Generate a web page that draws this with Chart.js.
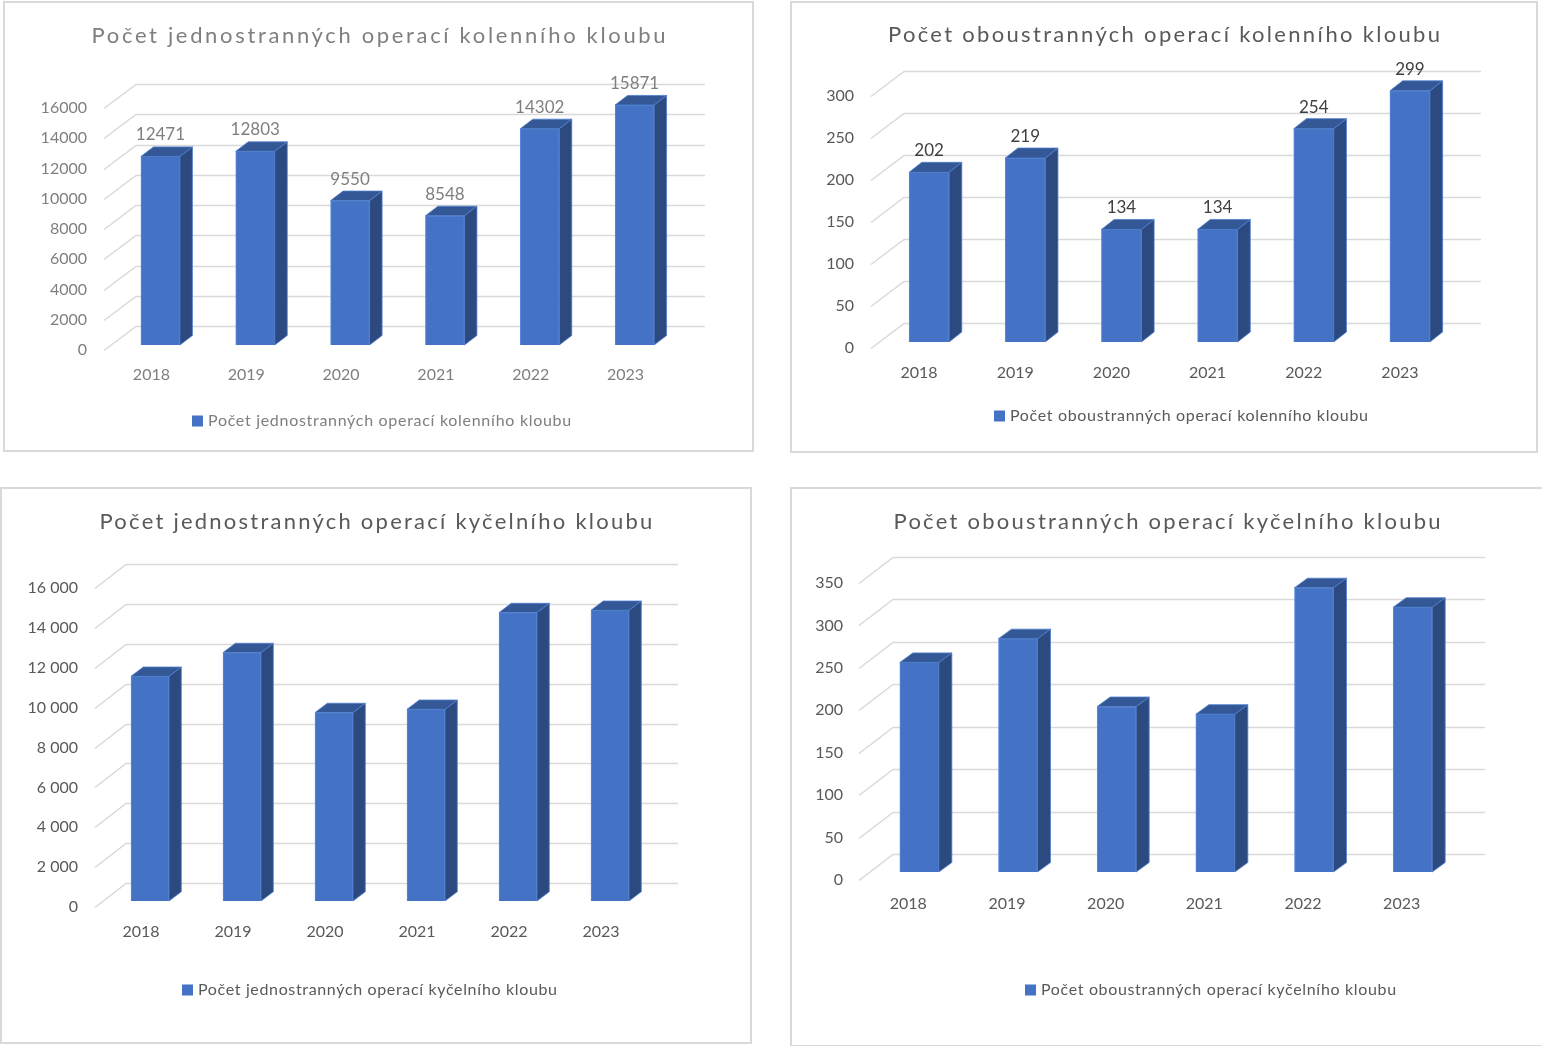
<!DOCTYPE html>
<html>
<head>
<meta charset="utf-8">
<script src="https://cdn.jsdelivr.net/npm/chart.js@4.4.1/dist/chart.umd.min.js"></script>
<style>
  body { margin: 0; background: #fff; width: 1542px; height: 1046px; position: relative; overflow: hidden; }
  .panel { position: absolute; box-sizing: border-box; border: 2px solid #d9d9d9; background: #fff; }
  .panel canvas { display: block; }
</style>
</head>
<body>
<div class="panel" id="p1"><canvas id="c1"></canvas></div>
<div class="panel" id="p2"><canvas id="c2"></canvas></div>
<div class="panel" id="p3"><canvas id="c3"></canvas></div>
<div class="panel" id="p4"><canvas id="c4"></canvas></div>
<script>
// data
const years = ['2018', '2019', '2020', '2021', '2022', '2023'];

const kneeSingle = [12471, 12803, 9550, 8548, 14302, 15871];
const kneeDouble = [202, 219, 134, 134, 254, 299];
const hipSingle = [11270, 12460, 9450, 9615, 14465, 14580];
const hipDouble = [247, 275, 195, 186, 335, 312];

const kneeSingleTicks = [0, 2000, 4000, 6000, 8000, 10000, 12000, 14000, 16000];
const kneeDoubleTicks = [0, 50, 100, 150, 200, 250, 300];
const hipSingleTicks = [0, 2000, 4000, 6000, 8000, 10000, 12000, 14000, 16000];
const hipDoubleTicks = [0, 50, 100, 150, 200, 250, 300, 350];

const kneeSingleTitle = 'Počet jednostranných operací kolenního kloubu';
const kneeDoubleTitle = 'Počet oboustranných operací kolenního kloubu';
const hipSingleTitle = 'Počet jednostranných operací kyčelního kloubu';
const hipDoubleTitle = 'Počet oboustranných operací kyčelního kloubu';

const FONT = "Lato, 'Open Sans', sans-serif";
const FRONT = '#4472C4';

// Excel text is loosely tracked, so stretch with letter spacing to a target width
function spacedFill(ctx, text, x, y, target, align) {
    ctx.letterSpacing = '0px';
    const w = ctx.measureText(text).width;
    const sp = Math.max(0, (target - w) / (text.length - 1));
    ctx.letterSpacing = sp.toFixed(2) + 'px';
    ctx.textAlign = 'left';
    ctx.fillText(text, align === 'center' ? x - target / 2 : x, y);
    ctx.letterSpacing = '0px';
}

// fake 3D: perspective grid behind, side + top faces on the bars
const bar3d = {
    id: 'bar3d',
    beforeDatasetsDraw(chart, args, o) {
        const { ctx, chartArea: a, scales: { y } } = chart;
        ctx.save();
        ctx.strokeStyle = '#d9d9d9';
        ctx.lineWidth = 1.5;
        y.ticks.forEach(t => {
            const py = Math.round(y.getPixelForValue(t.value)) + 0.5;
            ctx.beginPath();
            ctx.moveTo(a.left, py);
            ctx.lineTo(a.left + o.dx, py - o.dy);
            ctx.lineTo(a.right + o.dx, py - o.dy);
            ctx.stroke();
        });
        ctx.restore();
        ctx.save();
        ctx.translate(o.ox, -o.oy);
    },
    afterDatasetsDraw(chart, args, o) {
        const { ctx } = chart;
        const values = chart.data.datasets[0].data;
        chart.getDatasetMeta(0).data.forEach((bar, i) => {
            const { x, y, base, width } = bar.getProps(['x', 'y', 'base', 'width'], true);
            const l = x - width / 2, r = x + width / 2;
            ctx.lineWidth = 0.8;
            ctx.strokeStyle = '#4f7fcf';
            // right side
            ctx.fillStyle = '#2c4a80';
            ctx.beginPath();
            ctx.moveTo(r, y);
            ctx.lineTo(r + o.sx, y - o.sy);
            ctx.lineTo(r + o.sx, base - o.sy);
            ctx.lineTo(r, base);
            ctx.closePath();
            ctx.fill();
            ctx.stroke();
            // top
            ctx.fillStyle = '#335895';
            ctx.beginPath();
            ctx.moveTo(l, y);
            ctx.lineTo(l + o.sx, y - o.sy);
            ctx.lineTo(r + o.sx, y - o.sy);
            ctx.lineTo(r, y);
            ctx.closePath();
            ctx.fill();
            ctx.stroke();

            if (o.showValues) {
                ctx.fillStyle = o.valueColor;
                ctx.font = '17px ' + FONT;
                ctx.textAlign = 'center';
                ctx.textBaseline = 'middle';
                ctx.fillText(String(values[i]), x, y - 21.5);
            }
        });
        ctx.restore();
    }
};

// title + legend placed where Excel put them (its legend is not centred)
const headerLegend = {
    id: 'headerLegend',
    afterDraw(chart, args, o) {
        const { ctx, width } = chart;
        ctx.save();
        ctx.textBaseline = 'middle';
        ctx.fillStyle = o.titleColor;
        ctx.font = '22px ' + FONT;
        spacedFill(ctx, o.text, width / 2, o.titleY, o.titleW, 'center');

        ctx.fillStyle = FRONT;
        ctx.fillRect(o.legX, o.legY - 5.5, 11, 11);
        ctx.fillStyle = o.legendColor;
        ctx.font = '16px ' + FONT;
        spacedFill(ctx, o.text, o.legX + 16, o.legY, o.legW, 'left');
        ctx.restore();
    }
};

const spaced = v => String(v).replace(/\B(?=(\d{3})+(?!\d))/g, ' ');

function build(id, box, g, values, ticks, title, look) {
    const wrap = document.getElementById('p' + id);
    wrap.style.left = box.x + 'px';
    wrap.style.top = box.y + 'px';
    wrap.style.width = box.w + 'px';
    wrap.style.height = box.h + 'px';
    const cw = box.w - 4, ch = box.h - 4;
    const canvas = document.getElementById('c' + id);
    canvas.width = cw;
    canvas.height = ch;

    // page coords -> canvas coords
    const x0 = box.x + 2, y0 = box.y + 2;
    const L = g.left - x0, R = g.right - x0, T = g.top - y0, B = g.bottom - y0;
    const tickLH = 16 * 1.2;
    const xAxisH = 40;

    return new Chart(canvas, {
        type: 'bar',
        data: {
            labels: years,
            datasets: [{
                label: title,
                data: values,
                backgroundColor: FRONT,
                borderColor: '#5b8bdb',
                borderWidth: 1,
                barThickness: g.bar,
                clip: false
            }]
        },
        options: {
            responsive: false,
            animation: false,
            events: [],
            layout: { padding: { left: 0, top: T, right: cw - R, bottom: ch - B - xAxisH } },
            scales: {
                x: {
                    grid: { display: false, drawTicks: false },
                    border: { display: false },
                    ticks: {
                        color: look.tickColor,
                        font: { family: FONT, size: 16 },
                        padding: g.xLabY - g.bottom - tickLH / 2
                    },
                    afterFit: s => { s.height = xAxisH; }
                },
                y: {
                    min: ticks[0],
                    max: ticks[ticks.length - 1],
                    grid: { display: false, drawTicks: false },
                    border: { display: false },
                    ticks: {
                        stepSize: ticks[1] - ticks[0],
                        color: look.tickColor,
                        font: { family: FONT, size: 16 },
                        padding: g.left - g.yLabR,
                        callback: v => look.spaced ? spaced(v) : String(v)
                    },
                    afterFit: s => { s.width = L; }
                }
            },
            plugins: {
                legend: { display: false },
                tooltip: { enabled: false },
                title: { display: false },
                bar3d: {
                    dx: g.dx, dy: g.dy, ox: g.ox, oy: g.oy, sx: g.sx, sy: g.sy,
                    showValues: look.showValues, valueColor: look.valueColor
                },
                headerLegend: {
                    text: title, titleY: g.titleY - y0, titleW: g.titleW, titleColor: look.titleColor,
                    legX: g.legX - x0, legY: g.legY - y0, legW: g.legW, legendColor: look.legendColor
                }
            }
        },
        plugins: [bar3d, headerLegend]
    });
}

build(1, { x: 3, y: 1, w: 751, h: 451 },
    { left: 104, right: 673, top: 108, bottom: 350, yLabR: 87, xLabY: 375, titleY: 36, titleW: 574,
      legX: 192, legY: 421, legW: 363,
      dx: 32, dy: 24, ox: 9, oy: 5, bar: 39, sx: 12.5, sy: 9.5 },
    kneeSingle, kneeSingleTicks, kneeSingleTitle,
    { tickColor: '#7f7f7f', titleColor: '#7f7f7f', legendColor: '#7f7f7f', showValues: true, valueColor: '#7f7f7f', spaced: false });

build(2, { x: 790, y: 1, w: 748, h: 452 },
    { left: 871, right: 1448, top: 96, bottom: 348, yLabR: 854, xLabY: 373, titleY: 35, titleW: 552,
      legX: 994, legY: 416, legW: 358,
      dx: 33, dy: 25, ox: 10, oy: 6, bar: 40, sx: 12.7, sy: 10 },
    kneeDouble, kneeDoubleTicks, kneeDoubleTitle,
    { tickColor: '#595959', titleColor: '#595959', legendColor: '#595959', showValues: true, valueColor: '#404040', spaced: false });

build(3, { x: 0, y: 487, w: 752, h: 557 },
    { left: 95, right: 647, top: 588, bottom: 907, yLabR: 78, xLabY: 932, titleY: 522, titleW: 553,
      legX: 182, legY: 990, legW: 359,
      dx: 31, dy: 24, ox: 9, oy: 6, bar: 38, sx: 12.3, sy: 9.3 },
    hipSingle, hipSingleTicks, hipSingleTitle,
    { tickColor: '#595959', titleColor: '#595959', legendColor: '#595959', showValues: false, spaced: true });

build(4, { x: 790, y: 487, w: 754, h: 560 },
    { left: 859, right: 1451, top: 583, bottom: 880, yLabR: 843, xLabY: 904, titleY: 522, titleW: 547,
      legX: 1025, legY: 990, legW: 355,
      dx: 34, dy: 26, ox: 11, oy: 8, bar: 39, sx: 13, sy: 9.5 },
    hipDouble, hipDoubleTicks, hipDoubleTitle,
    { tickColor: '#595959', titleColor: '#595959', legendColor: '#595959', showValues: false, spaced: false });
</script>
</body>
</html>
